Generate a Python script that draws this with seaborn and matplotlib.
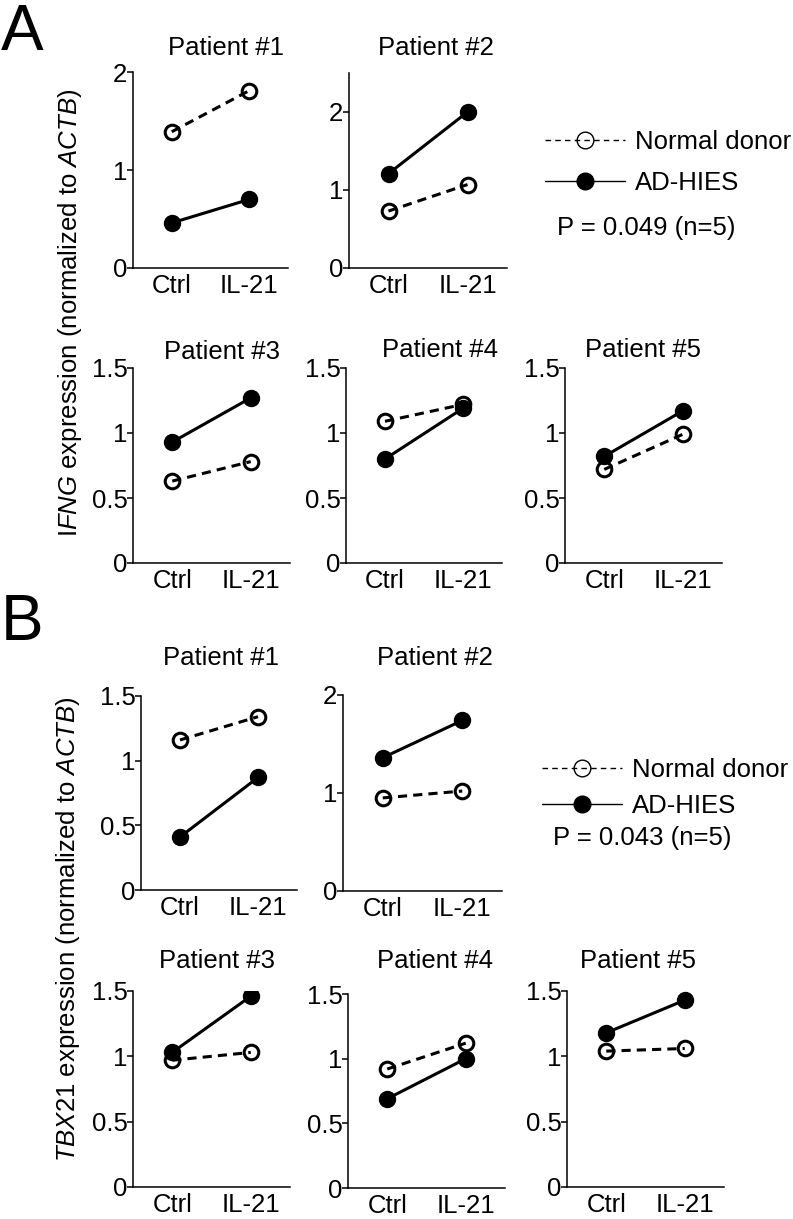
import numpy as np
import pandas as pd
import seaborn as sns
import matplotlib.pyplot as plt
from matplotlib.lines import Line2D

sns.set_style("white")
plt.rcParams["font.family"] = ["Liberation Sans", "DejaVu Sans"]
plt.rcParams["mathtext.fontset"] = "custom"
plt.rcParams["mathtext.rm"] = "Liberation Sans"
plt.rcParams["mathtext.it"] = "Liberation Sans:italic"
plt.rcParams["text.color"] = "black"
plt.rcParams["xtick.color"] = "black"
plt.rcParams["ytick.color"] = "black"

conditions = ["Ctrl", "IL-21"]
patients = ["Patient #1", "Patient #2", "Patient #3", "Patient #4", "Patient #5"]

# IFNG (panel A), values per patient: [Ctrl, IL-21]
ifng_normal = [[1.39, 1.81], [0.73, 1.07], [0.63, 0.78], [1.09, 1.22], [0.72, 0.99]]
ifng_adhies = [[0.46, 0.70], [1.21, 2.00], [0.93, 1.27], [0.80, 1.19], [0.82, 1.17]]
ifng_ylim = [2, 2.5, 1.5, 1.5, 1.5]
ifng_p = "P = 0.049 (n=5)"

# TBX21 (panel B)
tbx21_normal = [[1.16, 1.34], [0.95, 1.02], [0.97, 1.03], [0.92, 1.12], [1.04, 1.06]]
tbx21_adhies = [[0.41, 0.87], [1.36, 1.74], [1.03, 1.46], [0.69, 1.00], [1.18, 1.43]]
tbx21_ylim = [1.5, 2, 1.5, 1.5, 1.5]
tbx21_p = "P = 0.043 (n=5)"

W, H = 793, 1219
fig = plt.figure(figsize=(W / 100, H / 100), dpi=100)

FS = 18.5


def px_axes(x0, y0, x1, y1):
    # pixel box (left, top, right, bottom) -> figure axes
    return fig.add_axes([x0 / W, 1 - y1 / H, (x1 - x0) / W, (y1 - y0) / H])


def fmt(v):
    return "%g" % v


def draw_panel(ax, normal, adhies, ytop, title, tx, ty):
    df = pd.DataFrame({
        "cond": conditions * 2,
        "val": normal + adhies,
        "group": ["Normal donor"] * 2 + ["AD-HIES"] * 2,
    })
    sns.lineplot(data=df[df.group == "Normal donor"], x="cond", y="val", ax=ax,
                 color="black", linestyle=(0, (3, 2)), lw=2.2, marker="o",
                 markersize=10.5, markerfacecolor="none", markeredgecolor="black",
                 markeredgewidth=2.2, errorbar=None)
    sns.lineplot(data=df[df.group == "AD-HIES"], x="cond", y="val", ax=ax,
                 color="black", linestyle="-", lw=2.2, marker="o",
                 markersize=11.5, markerfacecolor="black", markeredgecolor="black",
                 markeredgewidth=1.0, errorbar=None)
    ax.set_xlim(-0.5, 1.5)
    ax.set_ylim(0, ytop)
    ticks = [0, 0.5, 1, 1.5] if ytop == 1.5 else [0, 1, 2]
    ax.set_yticks(ticks)
    ax.set_yticklabels([fmt(t) for t in ticks], fontsize=FS)
    ax.set_xticks([0, 1])
    ax.set_xticklabels(conditions, fontsize=FS)
    ax.set_xlabel("")
    ax.set_ylabel("")
    for s in ["top", "right"]:
        ax.spines[s].set_visible(False)
    for s in ["left", "bottom"]:
        ax.spines[s].set_linewidth(1.1)
        ax.spines[s].set_color("black")
    ax.tick_params(axis="y", direction="out", length=4, width=1.1, pad=0,
                   left=True)
    ax.tick_params(axis="x", length=0, pad=4)
    fig.text(tx / W, 1 - ty / H, title, ha="center", va="center", fontsize=FS)


def draw_legend(x_line, y_nd, spacing, x_p, y_p, ptext):
    ax = fig.add_axes([0, 0, 1, 1], facecolor="none")
    ax.set_axis_off()
    h_nd = Line2D([], [], color="black", lw=1.0, linestyle=(0, (4, 3)),
                  marker="o", markersize=12, markerfacecolor="none",
                  markeredgecolor="black", markeredgewidth=1.0)
    h_ad = Line2D([], [], color="black", lw=1.0, linestyle="-",
                  marker="o", markersize=12, markerfacecolor="black",
                  markeredgecolor="black")
    ax.legend([h_nd, h_ad], ["Normal donor", "AD-HIES"],
              loc="upper left",
              bbox_to_anchor=(x_line / W, 1 - (y_nd - 15) / H),
              bbox_transform=fig.transFigure, frameon=False,
              fontsize=FS, handlelength=3.1, handletextpad=0.4,
              labelspacing=spacing, borderpad=0, borderaxespad=0)
    fig.text(x_p / W, 1 - y_p / H, ptext, ha="left", va="center", fontsize=FS)


# Panel A
boxes_a = [(133, 72, 288, 268), (349, 73, 507, 268),
           (133, 368, 290, 563), (346, 368, 502, 563), (565, 368, 722, 563)]
titles_a = [(226, 48), (436, 48), (222, 352), (440, 350), (643, 350)]
for i in range(5):
    ax = px_axes(*boxes_a[i])
    draw_panel(ax, ifng_normal[i], ifng_adhies[i], ifng_ylim[i], patients[i], *titles_a[i])

# Panel B
boxes_b = [(141, 696, 297, 890), (343, 695, 502, 891),
           (133, 991, 290, 1187), (348, 994, 505, 1188), (567, 991, 724, 1187)]
titles_b = [(221, 658), (435, 658), (217, 961), (435, 961), (638, 961)]
for i in range(5):
    ax = px_axes(*boxes_b[i])
    draw_panel(ax, tbx21_normal[i], tbx21_adhies[i], tbx21_ylim[i], patients[i], *titles_b[i])

draw_legend(545, 145, 0.68, 557, 228, ifng_p)
draw_legend(542, 773, 0.48, 553, 838, tbx21_p)

fig.text(70 / W, 1 - 313 / H, r"I$\it{FNG}$ expression (normalized to $\it{ACTB}$)",
         rotation=90, ha="center", va="center", fontsize=FS)
fig.text(68 / W, 1 - 929 / H, r"$\it{TBX21}$ expression (normalized to $\it{ACTB}$)",
         rotation=90, ha="center", va="center", fontsize=FS)

fig.text(1 / W, 1 - 33 / H, "A", ha="left", va="center", fontsize=46)
fig.text(1 / W, 1 - 623 / H, "B", ha="left", va="center", fontsize=46)

fig.savefig("out.png", dpi=100, facecolor="white")
